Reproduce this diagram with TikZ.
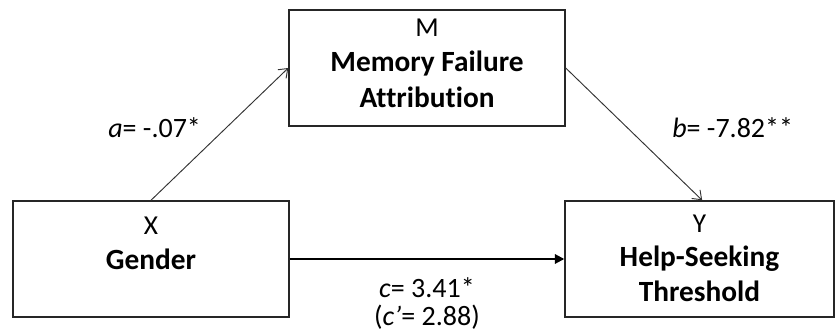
\documentclass[tikz,border=0pt]{standalone}
\usepackage{fontspec}
\setmainfont[Ligatures=CommonOff]{Carlito}
\usetikzlibrary{arrows.meta}
\begin{document}
\begin{tikzpicture}[x=0.75pt,y=-0.75pt,
  box/.style={draw=black!85,line width=1.1pt,minimum width=#1,minimum height=87pt,inner sep=0pt},
  ln/.style={anchor=base,inner sep=0pt,font=\fontsize{20.5}{24}\selectfont},
  bln/.style={anchor=base,inner sep=0pt,font=\fontsize{22}{24}\selectfont\bfseries},
  lbl/.style={anchor=base,inner sep=0pt,font=\fontsize{21}{24}\selectfont},
  thin/.style={draw=black!80,line width=0.7pt,-{Straight Barb[length=6pt,width=9pt,line width=0.7pt]}},
  thick/.style={draw=black,line width=1.5pt,-{Triangle[length=7pt,width=7pt]}}]
\useasboundingbox (0,0) rectangle (835,334);
\node[box=207pt] (M) at (427,68) {};
\node[box=207pt] (X) at (151,259) {};
\node[box=201.75pt] (Y) at (699.5,259) {};
\node[ln] (M1) at (427,37) {M};
\node[bln] (M2) at (427,72) {Memory Failure};
\node[bln] (M3) at (427,108) {Attribution};
\node[ln] (X1) at (151,235) {X};
\node[bln] (X2) at (151,270) {Gender};
\node[ln] (Y1) at (699.5,233) {Y};
\node[bln] (Y2) at (699.5,267) {Help-Seeking};
\node[bln] (Y3) at (699.5,302) {Threshold};
\draw[thin] (X.north) -- (M.west);
\draw[thin] (M.east) -- ([xshift=2pt]Y.north);
\draw[thick] (X.east) -- (Y.west);
\node[lbl,anchor=base west] (la) at (108,138) {\textit{a}= -.07*};
\node[lbl,anchor=base west] (lb) at (672,138) {\textit{b}= -7.82**};
\node[lbl] (lc) at (427,298) {\textit{c}= 3.41*};
\node[lbl] (lcp) at (427,326) {(\textit{c\char"0027}= 2.88)};
\end{tikzpicture}
\end{document}
